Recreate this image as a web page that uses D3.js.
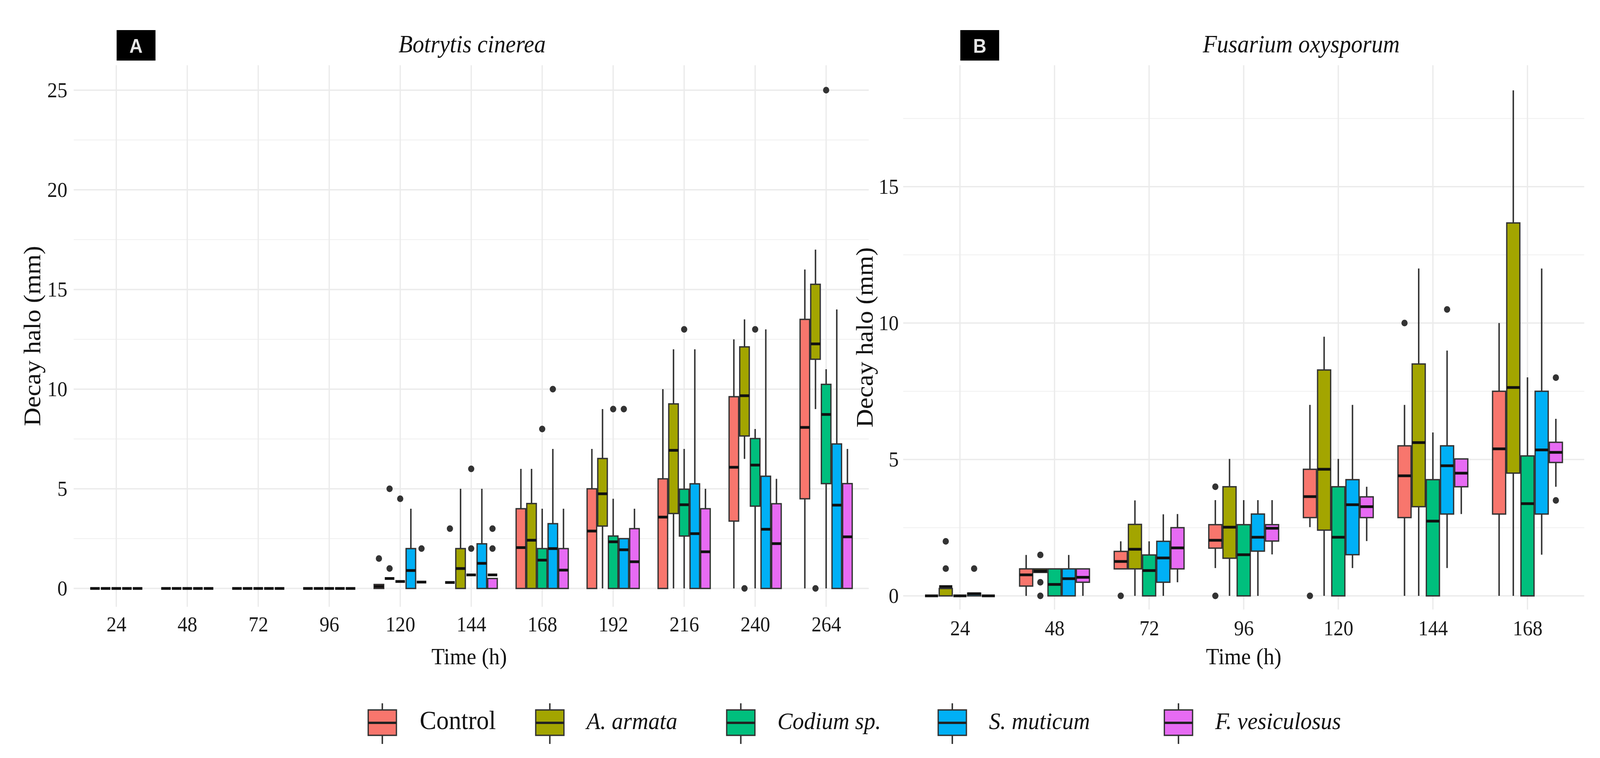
<!DOCTYPE html>
<html>
<head>
<meta charset="utf-8">
<script src="https://cdn.jsdelivr.net/npm/d3@7"></script>
<style>
  html, body { margin: 0; padding: 0; background: #fff; overflow: hidden; }
  svg { display: block; }
  text { font-family: "Liberation Serif", "DejaVu Serif", serif; fill: #111; }
</style>
</head>
<body>
<div id="chart"></div>
<script>
// treatments and their ggplot colours
const treatments = ["Control", "A. armata", "Codium sp.", "S. muticum", "F. vesiculosus"];
const italicName = [false, true, true, true, true];
const fills = ["#F8766D", "#A3A500", "#00BF7D", "#00B0F6", "#E76BF3"];

// ---- Panel A: Botrytis cinerea ----
const botrytisTimes = [24, 48, 72, 96, 120, 144, 168, 192, 216, 240, 264];
const botrytisTicks = [0, 5, 10, 15, 20, 25];
// each entry: [lower whisker, q1, median, q3, upper whisker]
const botrytisControl = [
  [0,0,0,0,0], [0,0,0,0,0], [0,0,0,0,0], [0,0,0,0,0],
  [0,0,0.1,0.2,0.2], [0.3,0.3,0.3,0.3,0.3], [0,0,2.05,4.0,6.0],
  [0,0,2.88,5.0,7.0], [0,0,3.58,5.5,10.0], [0,3.38,6.08,9.62,12.5], [0,4.5,8.08,13.5,16.0]
];
const botrytisArmata = [
  [0,0,0,0,0], [0,0,0,0,0], [0,0,0,0,0], [0,0,0,0,0],
  [0.5,0.5,0.5,0.5,0.5], [0,0,1.0,2.0,5.0], [0,0,2.42,4.26,6.0],
  [0,3.13,4.75,6.52,9.0], [0,3.76,6.93,9.26,12.0], [6.5,7.65,9.67,12.12,13.5], [9.0,11.5,12.27,15.26,17.0]
];
const botrytisCodium = [
  [0,0,0,0,0], [0,0,0,0,0], [0,0,0,0,0], [0,0,0,0,0],
  [0.35,0.35,0.35,0.35,0.35], [0.68,0.68,0.68,0.68,0.68], [0,0,1.42,2.0,4.0],
  [0,0,2.34,2.63,4.5], [0,2.63,4.2,4.98,7.0], [0,4.13,6.19,7.52,8.0], [0,5.26,8.73,10.24,11.0]
];
const botrytisMuticum = [
  [0,0,0,0,0], [0,0,0,0,0], [0,0,0,0,0], [0,0,0,0,0],
  [0,0,0.9,2.0,4.0], [0,0,1.26,2.24,5.0], [0,0,2.0,3.25,7.0],
  [0,0,1.94,2.5,2.5], [0,0,2.75,5.25,12.0], [0,0,2.97,5.63,13.0], [0,0,4.18,7.25,14.0]
];
const botrytisVesiculosus = [
  [0,0,0,0,0], [0,0,0,0,0], [0,0,0,0,0], [0,0,0,0,0],
  [0.32,0.32,0.32,0.32,0.32], [0,0,0.68,0.5,0.5], [0,0,0.92,2.0,4.0],
  [0,0,1.34,3.0,4.0], [0,0,1.84,4.0,5.0], [0,0,2.25,4.25,5.5], [0,0,2.59,5.26,7.0]
];
// [time, treatment index, value]
const botrytisOutliers = [
  [120,0,1.5], [120,1,1.0], [120,1,5.0], [120,2,4.5], [120,4,2.0],
  [144,0,3.0], [144,2,6.0], [144,2,2.0], [144,4,3.0], [144,4,2.0],
  [168,2,8.0], [168,3,10.0],
  [192,2,9.0], [192,3,9.0],
  [216,2,13.0],
  [240,1,0], [240,2,13.0],
  [264,1,0], [264,2,25.0]
];

// ---- Panel B: Fusarium oxysporum ----
const fusariumTimes = [24, 48, 72, 96, 120, 144, 168];
const fusariumTicks = [0, 5, 10, 15];
const fusariumControl = [
  [0,0,0,0,0], [0,0.36,0.77,0.99,1.5], [0.99,0.99,1.26,1.63,2.0], [1.02,1.75,2.04,2.61,3.51],
  [2.52,2.87,3.64,4.64,7.0], [0,2.87,4.4,5.5,7.0], [0,3.0,5.39,7.5,10.0]
];
const fusariumArmata = [
  [0,0,0.34,0.27,0.27], [0.86,0.86,0.91,0.99,0.99], [0,0.99,1.71,2.62,3.5], [0,1.38,2.52,4.0,5.02],
  [0,2.41,4.64,8.28,9.5], [0,3.27,5.62,8.5,12.0], [0,4.5,7.64,13.67,18.53]
];
const fusariumCodium = [
  [0,0,0,0,0], [0,0,0.42,0.99,0.99], [0,0,0.93,1.5,2.0], [0,0,1.51,2.61,3.51],
  [0,0,2.15,4.0,5.02], [0,0,2.74,4.26,5.99], [0,0,3.38,5.13,8.01]
];
const fusariumMuticum = [
  [0,0,0.08,0.1,0.1], [0,0,0.63,0.99,1.5], [0,0.5,1.39,2.0,2.99], [0,1.64,2.15,3.0,3.51],
  [1.02,1.51,3.34,4.26,7.0], [1.02,3.0,4.77,5.5,8.99], [1.51,3.0,5.35,7.5,12.0]
];
const fusariumVesiculosus = [
  [0,0,0,0,0], [0,0.5,0.68,0.99,0.99], [0.5,0.99,1.76,2.5,3.0], [1.52,2.01,2.48,2.61,3.51],
  [2.01,2.87,3.27,3.63,4.0], [3.0,4.0,4.5,5.02,5.02], [4.0,4.89,5.26,5.63,6.49]
];
const fusariumOutliers = [
  [24,1,1.0], [24,1,2.0], [24,3,1.0],
  [48,1,1.5], [48,1,0.5], [48,1,0],
  [72,0,0],
  [96,0,4.0], [96,0,0],
  [120,0,0],
  [144,0,10.0], [144,3,10.5],
  [168,4,8.0], [168,4,3.5]
];

// the drawing is laid out at 4365x1940 and stretched onto the whole window
const W = 4365, H = 1940;
const svg = d3.select("#chart").append("svg")
  .attr("viewBox", `0 0 ${W} ${H}`)
  .attr("preserveAspectRatio", "none")
  .style("width", "100vw")
  .style("height", "100vh");

const boxStroke = "#333333";

function drawPanel(p) {
  const g = svg.append("g");

  const x = d3.scalePoint()
    .domain(p.times)
    .range([p.left, p.right])
    .padding(0.6);
  const step = x.step();

  // dodge the five treatments inside each time slot (ggplot width 0.75)
  const dodge = d3.scaleBand()
    .domain(d3.range(treatments.length))
    .range([-0.375 * step, 0.375 * step]);

  const y = d3.scaleLinear()
    .domain(p.yDomain)
    .range([p.bottom, p.top]);

  // minor grid at the half-way points
  const minor = p.ticks.map(t => t + (p.ticks[1] - p.ticks[0]) / 2)
    .filter(v => v < p.yDomain[1]);

  g.selectAll(".minor").data(minor).join("line")
    .attr("x1", p.left).attr("x2", p.right)
    .attr("y1", d => y(d)).attr("y2", d => y(d))
    .style("stroke", "#efefef").style("stroke-width", 2);

  g.selectAll(".major").data(p.ticks).join("line")
    .attr("x1", p.left).attr("x2", p.right)
    .attr("y1", d => y(d)).attr("y2", d => y(d))
    .style("stroke", "#ebebeb").style("stroke-width", 3.5);

  g.selectAll(".vgrid").data(p.times).join("line")
    .attr("x1", d => x(d)).attr("x2", d => x(d))
    .attr("y1", p.top).attr("y2", p.bottom)
    .style("stroke", "#ebebeb").style("stroke-width", 3.5);

  // flatten the stats into one row per box
  const boxes = [];
  p.stats.forEach((arr, ti) => {
    arr.forEach((s, i) => {
      boxes.push({ time: p.times[i], t: ti, lo: s[0], q1: s[1], med: s[2], q3: s[3], hi: s[4] });
    });
  });
  const bw = dodge.bandwidth();
  const cx = d => x(d.time) + dodge(d.t) + bw / 2;

  // whiskers
  g.selectAll(".wlo").data(boxes).join("line")
    .attr("x1", cx).attr("x2", cx)
    .attr("y1", d => y(d.lo)).attr("y2", d => y(d.q1))
    .style("stroke", boxStroke).style("stroke-width", 4);
  g.selectAll(".whi").data(boxes).join("line")
    .attr("x1", cx).attr("x2", cx)
    .attr("y1", d => y(d.q3)).attr("y2", d => y(d.hi))
    .style("stroke", boxStroke).style("stroke-width", 4);

  // boxes
  g.selectAll(".box").data(boxes).join("rect")
    .attr("x", d => x(d.time) + dodge(d.t) + 1.5)
    .attr("width", bw - 3)
    .attr("y", d => y(d.q3))
    .attr("height", d => Math.max(0, y(d.q1) - y(d.q3)))
    .style("fill", d => fills[d.t])
    .style("stroke", boxStroke)
    .style("stroke-width", 3.5);

  // medians
  g.selectAll(".med").data(boxes).join("line")
    .attr("x1", d => x(d.time) + dodge(d.t) + 1.5)
    .attr("x2", d => x(d.time) + dodge(d.t) + bw - 1.5)
    .attr("y1", d => y(d.med)).attr("y2", d => y(d.med))
    .style("stroke", "#111").style("stroke-width", 7);

  // outliers
  g.selectAll(".out").data(p.outliers).join("circle")
    .attr("cx", d => x(d[0]) + dodge(d[1]) + bw / 2)
    .attr("cy", d => y(d[2]))
    .attr("r", 8.5)
    .style("fill", boxStroke);

  // axes
  const xAxis = g.append("g")
    .attr("transform", `translate(0,${p.bottom})`)
    .call(d3.axisBottom(x).tickSize(0).tickPadding(p.xPad));
  xAxis.select(".domain").remove();
  xAxis.selectAll("text")
    .style("font-family", "Liberation Serif")
    .style("font-size", "54px")
    .style("fill", "#1a1a1a");

  const yAxis = g.append("g")
    .attr("transform", `translate(${p.left},0)`)
    .call(d3.axisLeft(y).tickValues(p.ticks).tickSize(0).tickPadding(p.yPad));
  yAxis.select(".domain").remove();
  yAxis.selectAll("text")
    .style("font-family", "Liberation Serif")
    .style("font-size", "55px")
    .style("fill", "#1a1a1a");

  // axis titles
  g.append("text")
    .attr("x", p.timeX)
    .attr("y", 1700)
    .attr("text-anchor", "middle")
    .style("font-size", "59px")
    .text("Time (h)");

  g.append("text")
    .attr("transform", `translate(${p.yTitleX},${(p.top + p.bottom) / 2}) rotate(-90)`)
    .attr("text-anchor", "middle")
    .attr("dominant-baseline", "central")
    .style("font-size", "66px")
    .text("Decay halo (mm)");

  // italic panel title
  g.append("text")
    .attr("x", p.titleX)
    .attr("y", 134)
    .attr("text-anchor", "middle")
    .style("font-size", "63px")
    .style("font-style", "italic")
    .text(p.title);

  // black tag with the panel letter, left edge on the first time gridline
  const tagX = x(p.times[0]);
  g.append("rect")
    .attr("x", tagX + 1)
    .attr("y", 77)
    .attr("width", 106)
    .attr("height", 78)
    .style("fill", "#000");
  g.append("text")
    .attr("x", tagX + 54)
    .attr("y", 117)
    .attr("text-anchor", "middle")
    .attr("dominant-baseline", "central")
    .style("font-family", "Liberation Sans, DejaVu Sans, sans-serif")
    .style("font-weight", "bold")
    .style("font-size", "50px")
    .style("fill", "#e6e6e6")
    .text(p.tag);
}

drawPanel({
  times: botrytisTimes,
  stats: [botrytisControl, botrytisArmata, botrytisCodium, botrytisMuticum, botrytisVesiculosus],
  outliers: botrytisOutliers,
  ticks: botrytisTicks,
  yDomain: [-0.92, 26.25],
  left: 201, right: 2370, top: 167, bottom: 1553,
  xPad: 25, yPad: 17,
  timeX: 1280, yTitleX: 88, titleX: 1288,
  title: "Botrytis cinerea", tag: "A"
});

drawPanel({
  times: fusariumTimes,
  stats: [fusariumControl, fusariumArmata, fusariumCodium, fusariumMuticum, fusariumVesiculosus],
  outliers: fusariumOutliers,
  ticks: fusariumTicks,
  yDomain: [-0.5, 19.45],
  left: 2464, right: 4322, top: 167, bottom: 1560,
  xPad: 28, yPad: 12,
  timeX: 3393, yTitleX: 2359, titleX: 3550,
  title: "Fusarium oxysporum", tag: "B"
});

// ---- legend ----
const legendKeyX = [1003, 1460, 1981, 2558, 3175];
const keyW = 80;
const legend = svg.append("g");
const item = legend.selectAll(".legend").data(treatments).join("g")
  .attr("transform", (d, i) => `translate(${legendKeyX[i]},0)`);

item.append("line")
  .attr("x1", keyW / 2).attr("x2", keyW / 2)
  .attr("y1", 1800).attr("y2", 1904)
  .style("stroke", boxStroke).style("stroke-width", 4);
item.append("rect")
  .attr("x", 1.5).attr("y", 1817)
  .attr("width", keyW - 3).attr("height", 65)
  .style("fill", (d, i) => fills[i])
  .style("stroke", boxStroke).style("stroke-width", 3.5);
item.append("line")
  .attr("x1", 1.5).attr("x2", keyW - 1.5)
  .attr("y1", 1850).attr("y2", 1850)
  .style("stroke", "#222").style("stroke-width", 6);
item.append("text")
  .attr("x", (d, i) => i === 0 ? 142 : 140)
  .attr("y", 1866)
  .style("font-size", (d, i) => italicName[i] ? "62px" : "68px")
  .style("font-style", (d, i) => italicName[i] ? "italic" : "normal")
  .text(d => d);
</script>
</body>
</html>
